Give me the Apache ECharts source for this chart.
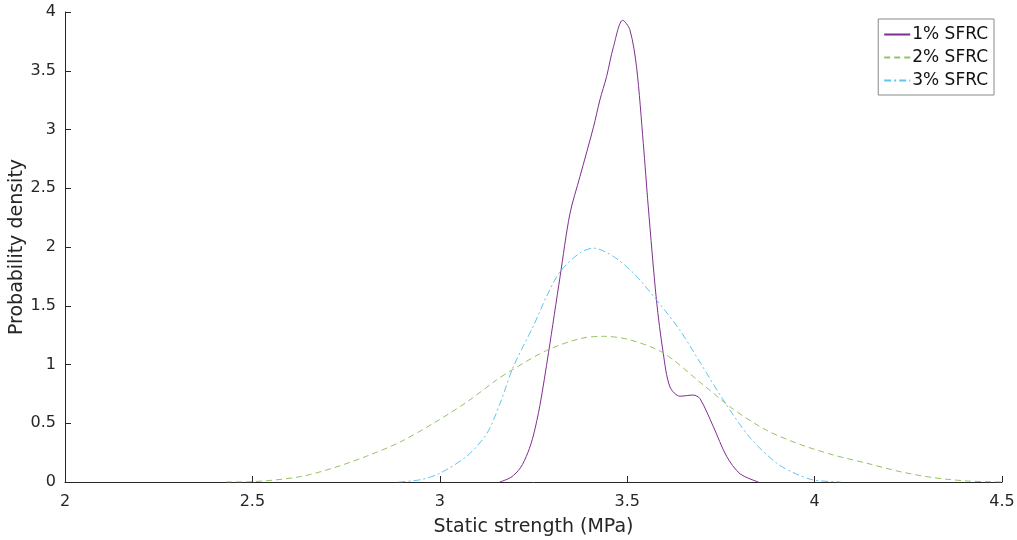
<!DOCTYPE html>
<html>
<head>
<meta charset="utf-8">
<script src="https://cdn.jsdelivr.net/npm/echarts@6/dist/echarts.min.js"></script>
<style>
  html, body { margin: 0; padding: 0; background: #fff; }
  #main { width: 1017px; height: 540px; }
</style>
</head>
<body>
<div id="main"></div>
<script>
// 1% SFRC
const x1 = [3.16, 3.19, 3.215, 3.235, 3.25, 3.267, 3.29, 3.321, 3.347, 3.374, 3.41, 3.427, 3.445, 3.463, 3.488, 3.507, 3.525, 3.543, 3.556, 3.578, 3.596, 3.614, 3.641, 3.676, 3.694, 3.73, 3.765, 3.801, 3.85];
const y1 = [0, 0.04, 0.12, 0.25, 0.40, 0.65, 1.10, 1.75, 2.28, 2.60, 3.02, 3.25, 3.45, 3.70, 3.93, 3.85, 3.53, 2.88, 2.35, 1.55, 1.10, 0.81, 0.73, 0.74, 0.71, 0.47, 0.22, 0.07, 0];
// 2% SFRC
const x2 = [2.43, 2.5, 2.627, 2.716, 2.805, 2.894, 2.983, 3.072, 3.152, 3.196, 3.285, 3.374, 3.437, 3.507, 3.596, 3.694, 3.783, 3.872, 3.961, 4.05, 4.139, 4.228, 4.317, 4.406, 4.5];
const y2 = [0, 0.003, 0.045, 0.12, 0.22, 0.34, 0.50, 0.68, 0.87, 0.96, 1.12, 1.22, 1.24, 1.21, 1.10, 0.85, 0.62, 0.44, 0.32, 0.23, 0.16, 0.088, 0.037, 0.009, 0];
// 3% SFRC
const x3 = [2.89, 2.95, 3.0, 3.072, 3.125, 3.161, 3.196, 3.25, 3.285, 3.321, 3.374, 3.41, 3.463, 3.516, 3.578, 3.641, 3.694, 3.756, 3.827, 3.899, 3.95, 3.997, 4.07];
const y3 = [0, 0.02, 0.074, 0.22, 0.41, 0.67, 0.98, 1.33, 1.58, 1.79, 1.95, 1.99, 1.92, 1.78, 1.55, 1.29, 1.02, 0.70, 0.38, 0.16, 0.07, 0.017, 0];

const names = ['1% SFRC', '2% SFRC', '3% SFRC'];
const colors = ['#7E2F8E', '#94C260', '#5EC4F0'];
const dashes = ['solid', [6, 4], [7, 3, 2, 3]];

const pairs = (xs, ys) => xs.map((x, i) => [x, ys[i]]);
const allData = [pairs(x1, y1), pairs(x2, y2), pairs(x3, y3)];

const chart = echarts.init(document.getElementById('main'));
const font = 'DejaVu Sans, sans-serif';
const ink = '#262626';

chart.setOption({
  animation: false,
  grid: { left: 65, right: 15, top: 12, bottom: 58, outerBoundsMode: 'none' },
  legend: {
    data: names,
    orient: 'vertical',
    right: 23,
    top: 19,
    itemWidth: 26,
    itemHeight: 14,
    itemGap: 6,
    padding: [7, 6, 6, 5],
    borderColor: '#888',
    borderWidth: 1,
    backgroundColor: '#fff',
    itemStyle: { opacity: 0 },
    textStyle: { fontFamily: font, fontSize: 17, color: '#111', padding: [0, 0, 0, -3] }
  },
  xAxis: {
    type: 'value',
    min: 2, max: 4.5, interval: 0.5,
    name: 'Static strength (MPa)',
    nameLocation: 'middle',
    nameGap: 36,
    nameMoveOverlap: false,
    nameTextStyle: { fontFamily: font, fontSize: 19, color: ink },
    axisLine: { lineStyle: { color: ink, width: 1 } },
    axisTick: { inside: true, length: 6, lineStyle: { color: ink } },
    axisLabel: { fontFamily: font, fontSize: 16, color: ink, margin: 12 },
    splitLine: { show: false }
  },
  yAxis: {
    type: 'value',
    min: 0, max: 4, interval: 0.5,
    name: 'Probability density',
    nameLocation: 'middle',
    nameGap: 38,
    nameMoveOverlap: false,
    nameTextStyle: { fontFamily: font, fontSize: 19, color: ink },
    axisLine: { show: true, lineStyle: { color: ink, width: 1 } },
    axisTick: { show: true, inside: true, length: 6, lineStyle: { color: ink } },
    axisLabel: { fontFamily: font, fontSize: 16, color: ink, margin: 9 },
    splitLine: { show: false }
  },
  series: names.map((name, i) => ({
    name: name,
    type: 'line',
    symbol: 'none',
    smooth: 0.3,
    data: allData[i],
    lineStyle: { color: colors[i], width: 1, type: dashes[i] },
    itemStyle: { color: colors[i] }
  }))
});
</script>
</body>
</html>
